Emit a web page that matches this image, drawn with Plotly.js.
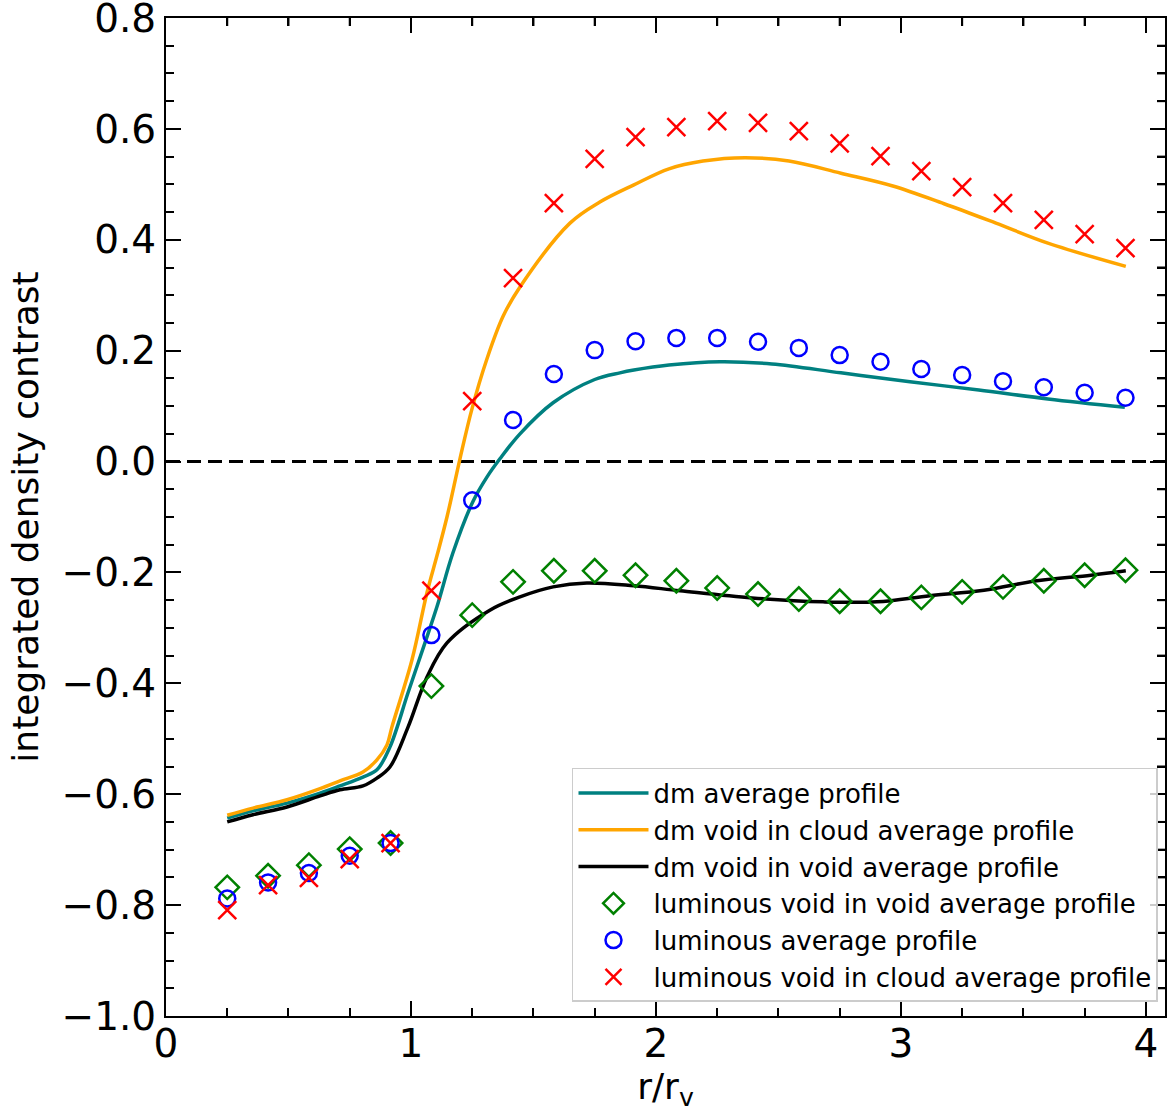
<!DOCTYPE html>
<html>
<head>
<meta charset="utf-8">
<script src="https://cdn.plot.ly/plotly-3.0.1.min.js"></script>
<style>html,body{margin:0;padding:0;background:#fff;}#chart{width:1168px;height:1113px;}</style>
</head>
<body>
<div id="chart"></div>
<script>
// Profile lines (dark matter)
const dmAvgX = [0.25,0.355,0.494,0.629,0.710,0.804,0.861,0.914,0.988,1.057,1.106,1.171,1.253,1.310,1.363,1.445,1.580,1.75,1.853,1.910,2.053,2.261,2.473,2.755,3.037,3.318,3.600,3.914];
const dmAvgY = [-0.643,-0.630,-0.616,-0.598,-0.585,-0.569,-0.556,-0.515,-0.417,-0.327,-0.262,-0.165,-0.072,-0.028,0.005,0.050,0.106,0.148,0.160,0.165,0.174,0.180,0.176,0.160,0.144,0.129,0.113,0.098];

const dmCloudX = [0.25,0.355,0.494,0.629,0.710,0.804,0.861,0.902,0.922,1.004,1.065,1.106,1.147,1.200,1.249,1.310,1.376,1.445,1.649,1.771,1.910,2.053,2.192,2.363,2.543,2.755,2.967,3.176,3.388,3.600,3.918];
const dmCloudY = [-0.638,-0.625,-0.610,-0.590,-0.576,-0.560,-0.538,-0.511,-0.479,-0.358,-0.237,-0.170,-0.100,0.005,0.095,0.185,0.262,0.315,0.430,0.468,0.499,0.528,0.542,0.548,0.542,0.520,0.497,0.465,0.430,0.394,0.352];

const dmVoidX = [0.25,0.355,0.494,0.629,0.710,0.804,0.861,0.914,0.988,1.065,1.147,1.322,1.445,1.580,1.718,1.910,2.098,2.392,2.682,2.902,3.118,3.339,3.555,3.776,3.918];
const dmVoidY = [-0.650,-0.637,-0.623,-0.603,-0.592,-0.585,-0.571,-0.551,-0.479,-0.389,-0.327,-0.268,-0.244,-0.226,-0.219,-0.224,-0.233,-0.246,-0.253,-0.253,-0.242,-0.232,-0.215,-0.205,-0.197];

// Luminous profiles (points)
const rBins = [0.25,0.4167,0.5833,0.75,0.9167,1.0833,1.25,1.4167,1.5833,1.75,1.9167,2.0833,2.25,2.4167,2.5833,2.75,2.9167,3.0833,3.25,3.4167,3.5833,3.75,3.9167];
const lumVoidY = [-0.768,-0.747,-0.728,-0.699,-0.688,-0.405,-0.277,-0.217,-0.197,-0.197,-0.205,-0.215,-0.228,-0.239,-0.248,-0.252,-0.252,-0.245,-0.235,-0.226,-0.215,-0.205,-0.196];
const lumAvgY = [-0.788,-0.759,-0.742,-0.711,-0.688,-0.313,-0.070,0.075,0.158,0.201,0.217,0.223,0.223,0.216,0.205,0.192,0.180,0.167,0.156,0.145,0.134,0.124,0.115];
const lumCloudY = [-0.809,-0.764,-0.751,-0.717,-0.688,-0.233,0.109,0.331,0.466,0.546,0.585,0.603,0.614,0.611,0.596,0.574,0.551,0.524,0.495,0.466,0.436,0.410,0.385];

const names = ["dm average profile","dm void in cloud average profile","dm void in void average profile","luminous void in void average profile","luminous average profile","luminous void in cloud average profile"];

const xTicks = [0,1,2,3,4];
const xTickText = ['0','1','2','3','4'];
const xMinor = [0.25,0.5,0.75,1.25,1.5,1.75,2.25,2.5,2.75,3.25,3.5,3.75];
const yTicks = [-1.0,-0.8,-0.6,-0.4,-0.2,0.0,0.2,0.4,0.6,0.8];
const yTickText = ['\u22121.0','\u22120.8','\u22120.6','\u22120.4','\u22120.2','0.0','0.2','0.4','0.6','0.8'];
const yMinor = [-0.95,-0.9,-0.85,-0.75,-0.7,-0.65,-0.55,-0.5,-0.45,-0.35,-0.3,-0.25,-0.15,-0.1,-0.05,0.05,0.1,0.15,0.25,0.3,0.35,0.45,0.5,0.55,0.65,0.7,0.75];

const xRange = [0, 4.078];
const yRange = [-1.0, 0.8];

const lw = 3.5;
const traces = [
  {x: dmAvgX, y: dmAvgY, name: names[0], mode: 'lines', line: {color: '#008080', width: lw, shape: 'spline', smoothing: 1}},
  {x: dmCloudX, y: dmCloudY, name: names[1], mode: 'lines', line: {color: '#FFA500', width: lw, shape: 'spline', smoothing: 1}},
  {x: dmVoidX, y: dmVoidY, name: names[2], mode: 'lines', line: {color: '#000000', width: lw, shape: 'spline', smoothing: 1}},
  {x: rBins, y: lumVoidY, name: names[3], mode: 'markers', marker: {symbol: 'diamond-open', size: 18, color: '#008000', line: {color: '#008000', width: 2.5}}},
  {x: rBins, y: lumAvgY, name: names[4], mode: 'markers', marker: {symbol: 'circle-open', size: 16, color: '#0000FF', line: {color: '#0000FF', width: 2.5}}},
  {x: rBins, y: lumCloudY, name: names[5], mode: 'markers', marker: {symbol: 'x-thin-open', size: 18, color: '#FF0000', line: {color: '#FF0000', width: 2.5}}}
];

const ff = 'DejaVu Sans, sans-serif';

// minor ticks mirrored on the top and right edges
const shapes = [];
xMinor.forEach(v => shapes.push({type: 'line', xref: 'x', yref: 'paper', ysizemode: 'pixel', yanchor: 1, x0: v, x1: v, y0: 0, y1: -8, line: {color: '#000', width: 2}}));
yMinor.forEach(v => shapes.push({type: 'line', yref: 'y', xref: 'paper', xsizemode: 'pixel', xanchor: 1, y0: v, y1: v, x0: 0, x1: -8, line: {color: '#000', width: 2}}));
shapes.push({type: 'line', xref: 'paper', yref: 'y', x0: 0, x1: 1, y0: 0, y1: 0, line: {color: '#000', width: 3, dash: '14px,7px'}, layer: 'below'});

const layout = {
  width: 1168, height: 1113,
  margin: {l: 166, r: 3, t: 18, b: 97},
  paper_bgcolor: '#fff', plot_bgcolor: '#fff',
  font: {family: ff, color: '#000', size: 26},
  showlegend: true,
  legend: {x: 0.4064, y: 0.2485, xanchor: 'left', yanchor: 'top', bgcolor: 'rgba(255,255,255,0.8)', bordercolor: '#cccccc', borderwidth: 1.5, font: {family: ff, size: 26, color: '#000'}, itemwidth: 70},
  xaxis: {
    range: xRange, tickvals: xTicks, ticktext: xTickText,
    showgrid: false, zeroline: false, showline: true, linecolor: '#000', linewidth: 2, mirror: 'allticks',
    ticks: 'inside', ticklen: 15, tickwidth: 2, tickcolor: '#000',
    minor: {tickvals: xMinor, ticks: 'inside', ticklen: 8, tickwidth: 2, tickcolor: '#000'},
    tickfont: {family: ff, size: 39, color: '#000'}, ticklabelstandoff: -8, ticklabeloverflow: 'allow',
    title: {text: 'r/r<sub>v</sub>', font: {family: ff, size: 36, color: '#000'}, standoff: 6}
  },
  yaxis: {
    range: yRange, tickvals: yTicks, ticktext: yTickText,
    showgrid: false, zeroline: false, showline: true, linecolor: '#000', linewidth: 2, mirror: 'allticks',
    ticks: 'inside', ticklen: 15, tickwidth: 2, tickcolor: '#000',
    minor: {tickvals: yMinor, ticks: 'inside', ticklen: 8, tickwidth: 2, tickcolor: '#000'},
    tickfont: {family: ff, size: 39, color: '#000'}, ticklabeloverflow: 'allow',
    title: {text: 'integrated density contrast', font: {family: ff, size: 36, color: '#000'}, standoff: 12}
  },
  shapes: shapes
};

Plotly.newPlot('chart', traces, layout, {displayModeBar: false, staticPlot: true});
</script>
</body>
</html>
